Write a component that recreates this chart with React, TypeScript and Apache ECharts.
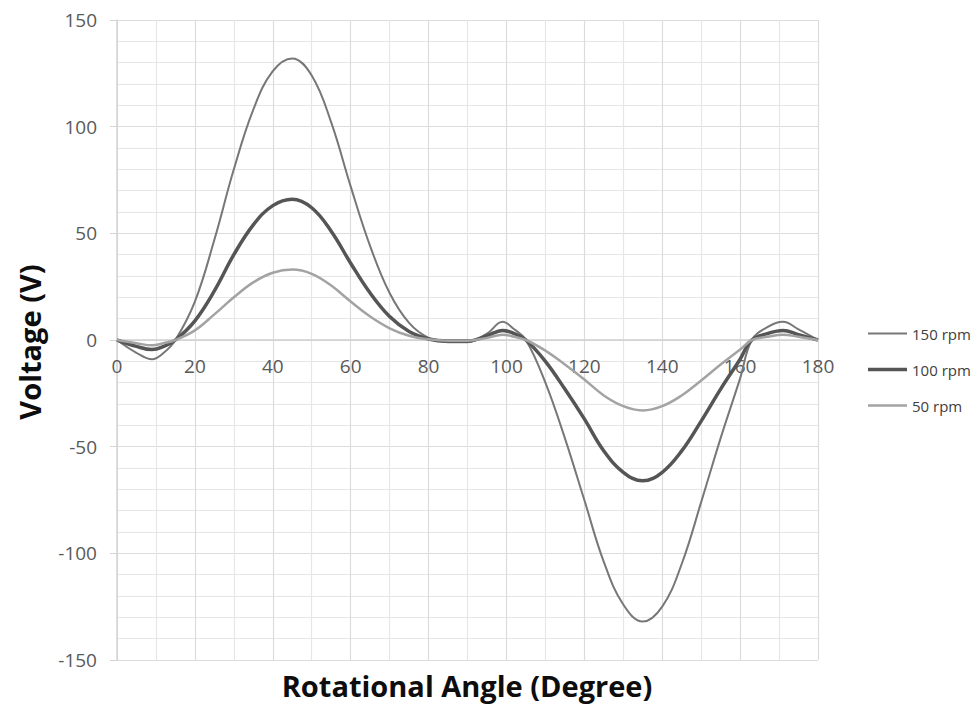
import React, { useEffect, useRef } from "react";
import * as echarts from "echarts";

const angles = [0, 5, 9, 12, 15, 20, 25, 30, 35, 40, 45, 50, 55, 60, 65, 70, 75, 80, 85, 90, 95, 99, 102, 105, 110, 115, 120, 125, 130, 135, 140, 145, 150, 155, 160, 163, 167, 171, 175, 180];

const rpm150 = [0, -6, -9, -6, 0, 18, 47, 80, 108, 126, 132, 124, 102, 72, 44, 22, 8, 1, -1, -1, 3, 8.5, 5, 0, -20, -46, -75, -104, -124, -132, -125, -105, -76, -46, -18, 0, 6, 8.5, 5, 0];
const rpm100 = [0, -3, -4.5, -3, 0, 9, 23, 40, 54, 63, 66, 62, 51, 36, 22, 11, 4, 0.5, -0.5, -0.5, 2, 4.5, 3, 0, -10, -23, -37, -52, -62, -66, -62, -52, -38, -23, -9, 0, 3, 4.5, 2.5, 0];
const rpm50 = [0, -1.5, -2.5, -1.5, 0, 4.5, 12, 20, 27, 31.5, 33, 31, 25.5, 18, 11, 5.5, 2, 0.3, -0.3, -0.3, 1, 2.5, 1.5, 0, -5, -11.5, -18.5, -26, -31, -33, -31, -26, -19, -11.5, -4.5, 0, 1.5, 2.5, 1.5, 0];

const seriesNames = ["150 rpm", "100 rpm", "50 rpm"];
const seriesColors = ["#777777", "#555555", "#a3a3a3"];
const seriesWidths = [2, 3.5, 2.5];
const xTitle = "Rotational Angle (Degree)";
const yTitle = "Voltage (V)";

export default function App() {
  const ref = useRef<HTMLDivElement>(null);
  useEffect(() => {
    document.body.style.margin = "0";
    const chart = echarts.init(ref.current!, null, { renderer: "svg" });
    const pair = (vals: number[]) => angles.map((a, i) => [a, vals[i]]);
    const lab = { color: "#595959", fontFamily: "Open Sans", fontSize: 19 };
    const all = [rpm150, rpm100, rpm50];
    chart.setOption({
      animation: false,
      backgroundColor: "#ffffff",
      grid: { left: 117, right: 159, top: 20, bottom: 46, containLabel: false },
      legend: {
        orient: "vertical",
        left: 863,
        top: 321,
        itemWidth: 39,
        itemHeight: 14,
        itemGap: 21,
        symbolKeepAspect: true,
        data: seriesNames.map((n, i) => ({
          name: n,
          icon: `path://M0,0 H40 V${seriesWidths[i]} H0 Z`,
          itemStyle: { color: seriesColors[i], borderWidth: 0 },
        })),
        textStyle: { color: "#404040", fontFamily: "Open Sans", fontSize: 15 },
      },
      xAxis: {
        type: "value",
        min: 0,
        max: 180,
        interval: 20,
        position: "bottom",
        offset: -320,
        axisLine: { show: true, onZero: false, lineStyle: { color: "#cfcfcf", width: 1.5 } },
        axisTick: { show: false },
        axisLabel: { ...lab, margin: 16, showMinLabel: true, showMaxLabel: true },
        splitLine: { show: true, lineStyle: { color: "#dcdcdc", width: 1.2 } },
        minorTick: { show: false, splitNumber: 2 },
        minorSplitLine: { show: true, lineStyle: { color: "#e6e6e6", width: 1.2 } },
      },
      yAxis: {
        type: "value",
        min: -150,
        max: 150,
        interval: 50,
        axisLine: { show: true, onZero: false, lineStyle: { color: "#d4d4d4", width: 1.5 } },
        axisTick: { show: true, length: 7, lineStyle: { color: "#d4d4d4" } },
        axisLabel: { ...lab, margin: 20, showMinLabel: true, showMaxLabel: true },
        splitLine: { show: true, lineStyle: { color: "#dcdcdc", width: 1.2 } },
        minorTick: { show: false, splitNumber: 5 },
        minorSplitLine: { show: true, lineStyle: { color: "#e6e6e6", width: 1.2 } },
      },
      graphic: [
        {
          type: "text",
          x: 467,
          y: 685,
          style: {
            text: xTitle,
            fill: "#0d0d0d",
            font: "bold 29px 'Open Sans'",
            textAlign: "center",
            textVerticalAlign: "middle",
          },
        },
        {
          type: "text",
          x: 29,
          y: 342,
          rotation: Math.PI / 2,
          style: {
            text: yTitle,
            fill: "#0d0d0d",
            font: "bold 29px 'Open Sans'",
            textAlign: "center",
            textVerticalAlign: "middle",
          },
        },
      ],
      series: seriesNames.map((n, i) => ({
        name: n,
        type: "line",
        smooth: 0.4,
        symbol: "none",
        data: pair(all[i]),
        lineStyle: { color: seriesColors[i], width: seriesWidths[i] },
        itemStyle: { color: seriesColors[i] },
      })),
    });
    return () => chart.dispose();
  }, []);
  return <div ref={ref} style={{ width: 977, height: 706 }} />;
}
